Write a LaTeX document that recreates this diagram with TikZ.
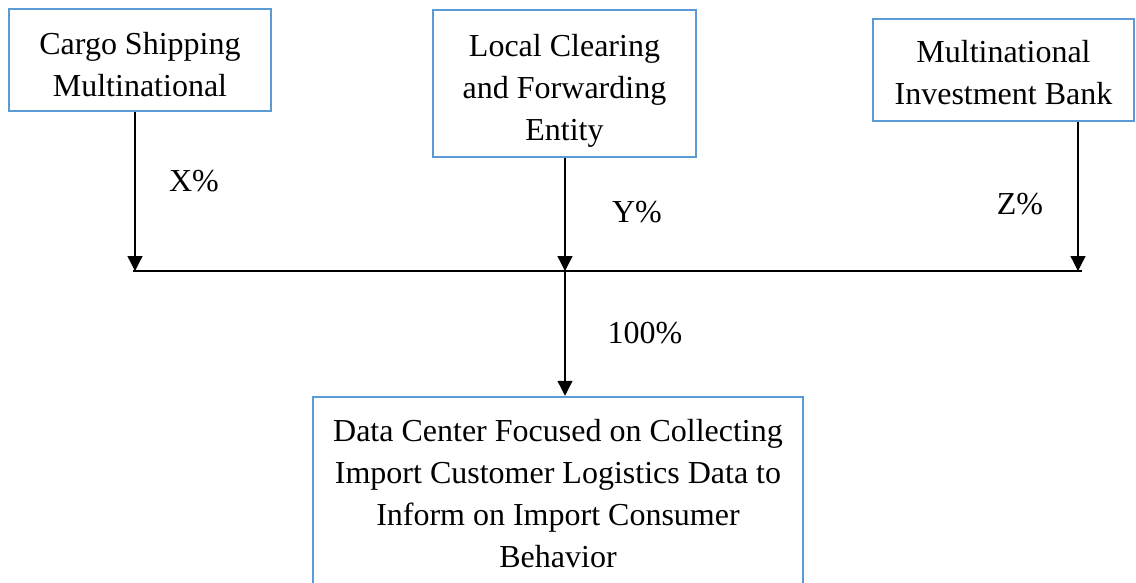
\documentclass[tikz,border=0pt]{standalone}
\usepackage{fontspec}
\setmainfont{Liberation Serif}
\usetikzlibrary{arrows.meta}
\definecolor{boxblue}{RGB}{91,155,213}
% centred lines, lowered inside the frame without changing the frame
\newcommand{\framedlines}[2]{\raisebox{#1}[\height][\depth]{\begin{tabular}{@{}c@{}}#2\end{tabular}}}
\tikzset{
  entity/.style={draw=boxblue, line width=2.5pt, inner sep=0pt,
    font=\fontsize{32}{42}\selectfont},
  share/.style={font=\fontsize{32}{42}\selectfont, inner sep=0pt},
  flow/.style={line width=1.3pt, -{Triangle[width=15pt,length=15pt]}},
  bus/.style={line width=1.3pt}
}
\begin{document}
\begin{tikzpicture}[x=1pt, y=-1pt]
  \clip (0,0) rectangle (1136,582);
  \useasboundingbox (0,0) rectangle (1136,582);

  % shareholders
  \node[entity, minimum width=262pt, minimum height=102pt] (ship) at (140,60)
    {\framedlines{-7pt}{Cargo Shipping\\Multinational}};
  \node[entity, minimum width=263pt, minimum height=147pt] (clear) at (564.5,83.5)
    {\framedlines{-7pt}{Local Clearing\\and Forwarding\\Entity}};
  \node[entity, minimum width=261pt, minimum height=102pt] (bank) at (1003.5,70)
    {\framedlines{-5pt}{Multinational\\Investment Bank}};

  % joint venture
  \node[entity, minimum width=490pt, minimum height=194pt] (dc) at (558,494)
    {\framedlines{-2.5pt}{Data Center Focused on Collecting\\Import Customer Logistics Data to\\Inform on Import Consumer\\Behavior}};

  % junction points on the horizontal bus
  \coordinate (jx) at (135,271);
  \coordinate (jy) at (565,271);
  \coordinate (jz) at (1078,271);
  \coordinate (busL) at (133,271);
  \coordinate (busR) at (1082,271);

  \draw[bus] (busL) -- (busR);
  \draw[flow] (ship.south -| jx) -- (jx);
  \draw[flow] (clear.south -| jy) -- (jy);
  \draw[flow] (bank.south -| jz) -- (jz);
  \draw[flow] (jy) -- (dc.north -| jy);

  % ownership shares
  \node[share] (px) at (194,181) {X\%};
  \node[share] (py) at (637,212) {Y\%};
  \node[share] (pz) at (1020,204) {Z\%};
  \node[share] (pt) at (645,333) {100\%};
\end{tikzpicture}
\end{document}
